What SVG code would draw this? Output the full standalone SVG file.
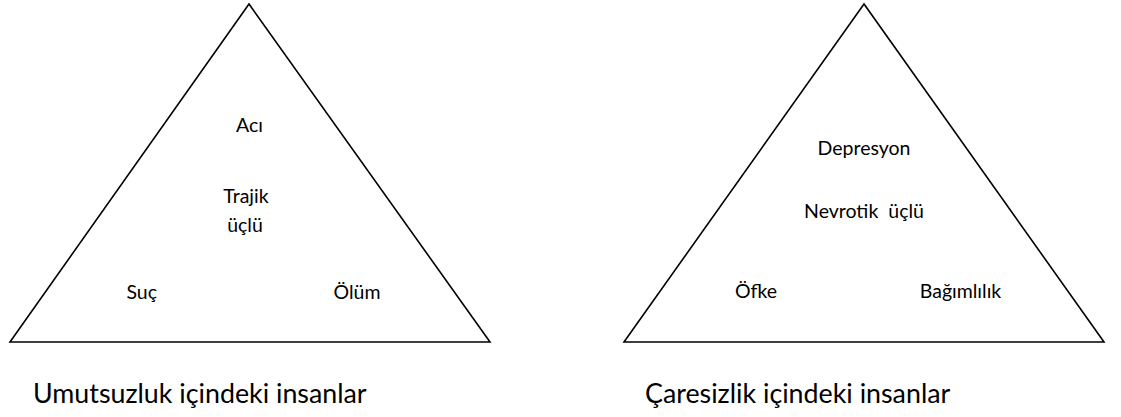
<svg xmlns="http://www.w3.org/2000/svg" width="1121" height="417" viewBox="0 0 1121 417">
<style>
.tri{fill:none;stroke:#000;stroke-width:1.6;stroke-linejoin:miter}
.t{font-family:Lato,"Open Sans","Liberation Sans",sans-serif;font-size:19.5px;fill:#000;text-anchor:middle}
.lbl{font-family:Lato,"Open Sans","Liberation Sans",sans-serif;font-size:26.8px;fill:#000}
</style>
<rect width="1121" height="417" fill="#fff"/>
<g id="triangle-trajik">
<polygon class="tri" points="249,4 10,342 490,342"/>
<text class="t" x="249.5" y="131.7">Acı</text>
<text class="t" x="246" y="202.7">Trajik</text>
<text class="t" x="245" y="231.7">üçlü</text>
<text class="t" x="141.7" y="299.3">Suç</text>
<text class="t" x="357" y="299.3">Ölüm</text>
</g>
<g id="triangle-nevrotik">
<polygon class="tri" points="864,4 624,342 1104,342"/>
<text class="t" x="864" y="155">Depresyon</text>
<text class="t" x="864" y="218.3" xml:space="preserve">Nevrotik  üçlü</text>
<text class="t" x="756" y="298.3">Öfke</text>
<text class="t" x="960.5" y="298.3">Bağımlılık</text>
</g>
<g id="label-umutsuzluk">
<text class="lbl" x="33" y="403">Umutsuzluk içindeki insanlar</text>
</g>
<g id="label-caresizlik">
<text class="lbl" x="645" y="403">Çaresizlik içindeki insanlar</text>
</g>
<g id="connectors"></g>
</svg>
